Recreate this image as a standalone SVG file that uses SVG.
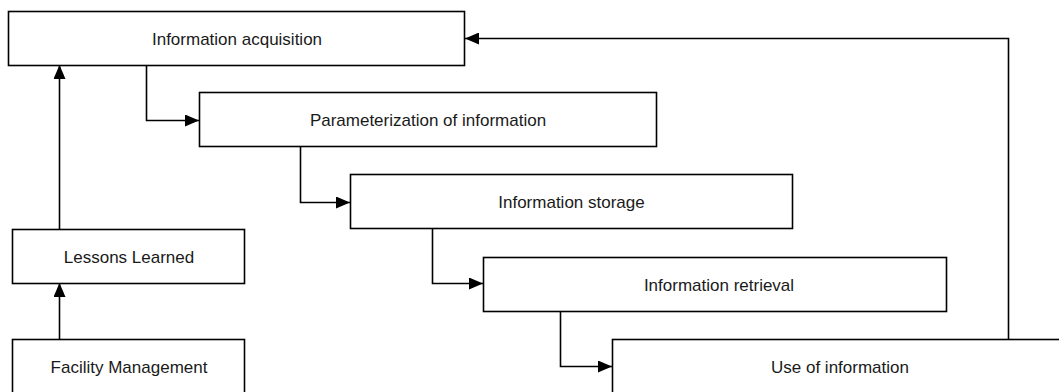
<svg xmlns="http://www.w3.org/2000/svg" width="1059" height="392" viewBox="0 0 1059 392">
  <style>
    .box { fill: #ffffff; stroke: #000000; stroke-width: 1.6; }
    .label { font-family: "Liberation Sans", Arial, sans-serif; font-size: 17px; fill: #1a1a1a; text-anchor: middle; }
    .link { fill: none; stroke: #000000; stroke-width: 1.6; marker-end: url(#arrow); }
  </style>
  <defs>
    <marker id="arrow" markerUnits="userSpaceOnUse" markerWidth="14" markerHeight="12" refX="14" refY="6" orient="auto">
      <path d="M0,0 L14,6 L0,12 Z" fill="#000000"/>
    </marker>
  </defs>

  <rect width="1059" height="392" fill="#ffffff"/>

  <g id="connectors">
    <path class="link" d="M146.5,65 V120.5 H199"/>
    <path class="link" d="M300.5,147 V202.5 H350"/>
    <path class="link" d="M432.5,229 V283.5 H483"/>
    <path class="link" d="M560.5,311 V366.5 H612"/>
    <path class="link" d="M1008.5,339 V38.5 H465"/>
    <path class="link" d="M59.5,339 V283"/>
    <path class="link" d="M59.5,229 V65"/>
  </g>

  <g id="node-acquisition">
    <rect class="box" x="8.5" y="11.5" width="456" height="54"/>
    <text class="label" x="237" y="45">Information acquisition</text>
  </g>

  <g id="node-parameterization">
    <rect class="box" x="199.5" y="92.5" width="457" height="54"/>
    <text class="label" x="428" y="125.5">Parameterization of information</text>
  </g>

  <g id="node-storage">
    <rect class="box" x="350.5" y="174.5" width="442" height="54"/>
    <text class="label" x="571.5" y="208">Information storage</text>
  </g>

  <g id="node-retrieval">
    <rect class="box" x="483.5" y="257.5" width="463" height="54"/>
    <text class="label" x="719" y="290.5">Information retrieval</text>
  </g>

  <g id="node-use">
    <rect class="box" x="612.5" y="339.5" width="460" height="60"/>
    <text class="label" x="840" y="373">Use of information</text>
  </g>

  <g id="node-lessons">
    <rect class="box" x="12.5" y="229.5" width="232" height="54"/>
    <text class="label" x="129" y="263">Lessons Learned</text>
  </g>

  <g id="node-facility">
    <rect class="box" x="12.5" y="339.5" width="232" height="60"/>
    <text class="label" x="129" y="373">Facility Management</text>
  </g>
</svg>
